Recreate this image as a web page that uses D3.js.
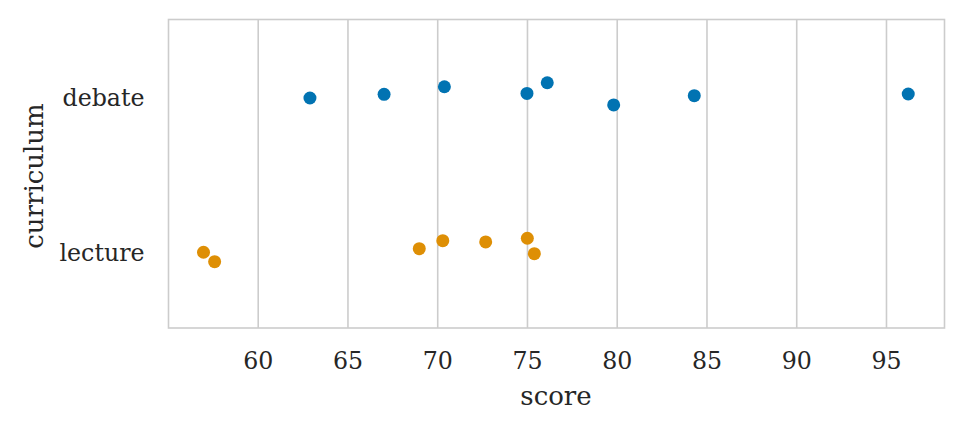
<!DOCTYPE html>
<html>
<head>
<meta charset="utf-8">
<script src="https://cdn.jsdelivr.net/npm/d3@7"></script>
<style>
  html, body { margin: 0; padding: 0; background: #fff; }
  svg { display: block; font-family: "DejaVu Serif", serif; }
</style>
</head>
<body>
<svg id="chart" width="963" height="432"></svg>
<script>
const categories = ["debate", "lecture"];
const colors = ["#0173b2", "#de8f05"];
const debateScores = [62.91, 67.04, 70.40, 75.00, 76.13, 79.83, 84.32, 96.24];
const debateJitter = [0.009, -0.015, -0.064, -0.021, -0.090, 0.054, -0.006, -0.017];
const lectureScores = [56.98, 57.60, 69.00, 70.31, 72.70, 75.02, 75.41];
const lectureJitter = [0.009, 0.070, -0.014, -0.066, -0.058, -0.082, 0.018];
const xTicks = [60, 65, 70, 75, 80, 85, 90, 95];
const xLabel = "score";
const yLabel = "curriculum";

const series = [
  { cat: "debate", scores: debateScores, jitter: debateJitter },
  { cat: "lecture", scores: lectureScores, jitter: lectureJitter }
];

const W = 963, H = 432;
const m = { left: 168.5, right: 944.5, top: 19.5, bottom: 328 };
const svg = d3.select("#chart");

const x = d3.scaleLinear().domain([55.03, 98.26]).range([m.left, m.right]);
const y = d3.scaleLinear().domain([-0.5, 1.5]).range([m.top, m.bottom]);

const tickFont = 23.7, labelFont = 26;

// grid lines
const xAxis = d3.axisBottom(x).tickValues(xTicks).tickSize(-(m.bottom - m.top)).tickFormat(d3.format("d"));
const gx = svg.append("g").attr("transform", `translate(0,${m.bottom})`).call(xAxis);
gx.select(".domain").remove();
gx.selectAll(".tick line").attr("stroke", "#cccccc").attr("stroke-width", 1.6);
gx.selectAll(".tick text").attr("fill", "#262626").attr("font-size", tickFont)
  .attr("font-family", "DejaVu Serif").attr("y", 41).attr("dy", 0);

// y axis labels
const yAxis = d3.axisLeft(y).tickValues([0, 1]).tickSize(0).tickPadding(24).tickFormat(i => categories[i]);
const gy = svg.append("g").attr("transform", `translate(${m.left},0)`).call(yAxis);
gy.select(".domain").remove();
gy.selectAll(".tick text").attr("fill", "#262626").attr("font-size", tickFont)
  .attr("font-family", "DejaVu Serif").attr("dy", 9.3);

// frame
svg.append("rect").attr("x", m.left).attr("y", m.top)
  .attr("width", m.right - m.left).attr("height", m.bottom - m.top)
  .attr("fill", "none").attr("stroke", "#cccccc").attr("stroke-width", 1.6);

// points
series.forEach((s, si) => {
  svg.append("g").selectAll("circle").data(s.scores).join("circle")
    .attr("cx", d => x(d))
    .attr("cy", (d, i) => y(si + s.jitter[i]))
    .attr("r", 6.5)
    .attr("fill", colors[si]);
});

// labels
svg.append("text").attr("x", 556).attr("y", 405)
  .attr("text-anchor", "middle").attr("font-size", labelFont).attr("fill", "#262626").text(xLabel);
svg.append("text").attr("transform", `translate(43,176) rotate(-90)`)
  .attr("text-anchor", "middle").attr("font-size", labelFont).attr("fill", "#262626").text(yLabel);
</script>
</body>
</html>
